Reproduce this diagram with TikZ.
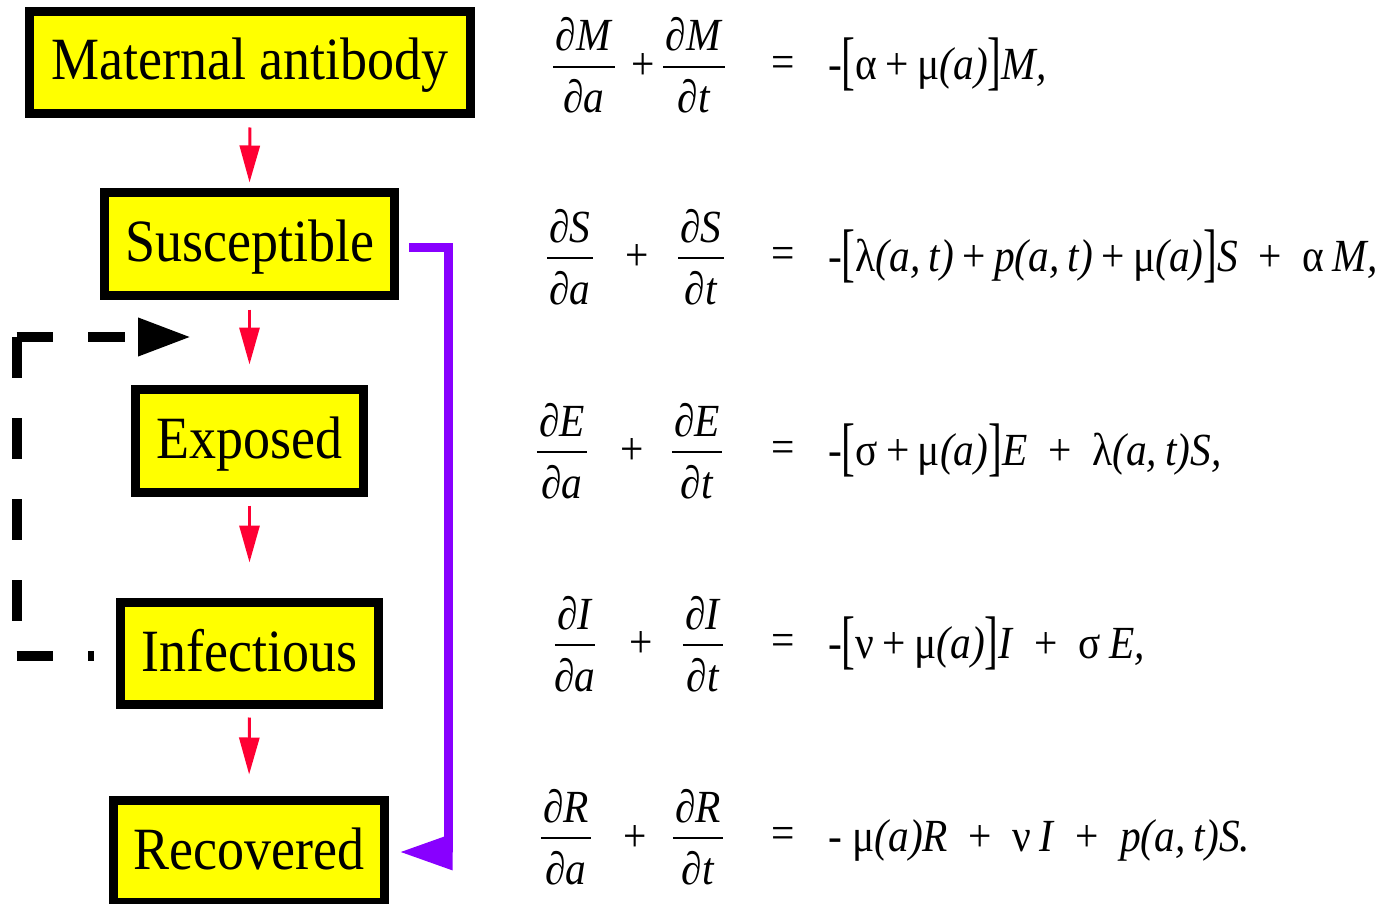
\documentclass[tikz,border=0pt]{standalone}
\usepackage{fontspec}
\setmainfont{Liberation Serif}
\usepackage{graphicx}
\usetikzlibrary{arrows.meta}
\definecolor{boxyellow}{RGB}{255,255,0}
\definecolor{arrred}{RGB}{255,0,51}
\definecolor{loopviolet}{RGB}{136,0,255}
\newcommand{\cx}[1]{\scalebox{0.9}[1]{#1}}
\newcommand{\iv}[1]{\textit{#1}}
\newcommand{\tsp}{\hspace{0.2em}}
\newcommand{\lb}{\raisebox{-3pt}{\scalebox{1}[1.4]{[}}}
\newcommand{\rb}{\raisebox{-3pt}{\scalebox{1}[1.4]{]}}}
\newcommand{\eqfont}{\fontsize{46}{52}\selectfont}
\newcommand{\efrac}[5]{%
  \coordinate (#1r) at (#2,#3);
  \node[eq, anchor=base] (#1n) at (#2,#3-16) {\cx{\iv{∂#4}}};
  \node[eq, anchor=base] (#1d) at (#2,#3+46) {\cx{\iv{∂#5}}};
  \draw[fracrule] ([xshift=-2pt]#1n.west |- #1r) -- ([xshift=2pt]#1n.east |- #1r);
}
\tikzset{
  comp/.style={draw=black, fill=boxyellow, line width=9pt, inner sep=0pt,
    font=\fontsize{60}{66}\selectfont, text height=46pt, text depth=11pt},
  flow/.style={draw=arrred, line width=3pt, -{Triangle[length=37pt,width=20pt]}},
  fbv/.style={draw=black, line width=10pt, dash pattern=on 40.5pt off 40.5pt},
  fbh/.style={draw=black, line width=10pt, dash pattern=on 36.5pt off 35pt},
  pv/.style={draw=loopviolet, line width=9pt},
  eq/.style={inner sep=0pt, font=\eqfont},
  fracrule/.style={draw=black, line width=2.5pt},
}
\begin{document}
\begin{tikzpicture}[x=1pt,y=-1pt]
\useasboundingbox (0,0) rectangle (1384,904);
% compartments
\node[comp, minimum width=441pt, minimum height=102pt] (mat) at (250,62.5) {\cx{Maternal antibody}};
\node[comp, minimum width=290pt, minimum height=103pt] (sus) at (249.5,244) {\cx{Susceptible}};
\node[comp, minimum width=228pt, minimum height=103pt] (exp) at (249.5,441) {\cx{Exposed}};
\node[comp, minimum width=258pt, minimum height=102pt] (inf) at (249.5,653.5) {\cx{Infectious}};
\node[comp, minimum width=271pt, minimum height=102pt] (rec) at (249,851.5) {\cx{Recovered}};
% red flows
\draw[flow, shorten <=9.5pt, shorten >=5.5pt] (mat.south) -- (sus.north);
\draw[flow, shorten <=9.5pt, shorten >=20.5pt] (sus.south) -- (exp.north);
\draw[flow, shorten <=8.5pt, shorten >=35.5pt] (exp.south) -- (inf.north);
\draw[flow, shorten <=8.5pt, shorten >=21.5pt] (inf.south) -- (rec.north);
% dashed feedback
\coordinate (dlt) at (16.5,337);
\coordinate (dlb) at (16.5,656);
\coordinate (dtip) at (191,337);
\draw[fbv] (dlt) -- (dlb);
\draw[fbh, shorten >=22.5pt] (dlb) -- (dlb -| inf.west);
\draw[fbh, -{Triangle[length=53pt,width=36pt]}] (dlt) -- (dtip);
% violet bypass
\coordinate (pc) at (448,852);
\draw[pv, shorten <=10pt, shorten >=10.5pt, -{Triangle[length=53pt,width=34pt]}]
  ([yshift=-3pt]sus.east) -| (pc) -- (pc -| rec.east);
% equations
\efrac{a1}{584}{67}{M}{a}
\efrac{b1}{694}{67}{M}{t}
\node[eq] (p1) at (643,67) {\cx{+}};
\node[eq] (e1) at (783,67) {\cx{=}};
\node[eq, anchor=base west] (r1) at (828,80) {\cx{-\lb α\tsp+\tsp μ\iv{(a)}\rb\iv{M,}}};

\efrac{a2}{570}{258}{S}{a}
\efrac{b2}{701}{258}{S}{t}
\node[eq] (p2) at (637,258) {\cx{+}};
\node[eq] (e2) at (783,258) {\cx{=}};
\node[eq, anchor=base west] (r2) at (828,271) {\cx{-\lb λ\iv{(a,\tsp t)}\tsp+\tsp\iv{p(a,\tsp t)}\tsp+\tsp μ\iv{(a)}\rb\iv{S}\ \ +\ \ α\tsp\iv{M,}}};

\efrac{a3}{562}{452}{E}{a}
\efrac{b3}{697}{452}{E}{t}
\node[eq] (p3) at (632,452) {\cx{+}};
\node[eq] (e3) at (783,452) {\cx{=}};
\node[eq, anchor=base west] (r3) at (828,465) {\cx{-\lb σ\tsp+\tsp μ\iv{(a)}\rb\iv{E}\ \ +\ \ λ\iv{(a,\tsp t)S,}}};

\efrac{a4}{575}{645}{I}{a}
\efrac{b4}{703}{645}{I}{t}
\node[eq] (p4) at (641,645) {\cx{+}};
\node[eq] (e4) at (783,645) {\cx{=}};
\node[eq, anchor=base west] (r4) at (828,658) {\cx{-\lb ν\tsp+\tsp μ\iv{(a)}\rb\iv{I}\ \ +\ \ σ\tsp\iv{E,}}};

\efrac{a5}{566}{838}{R}{a}
\efrac{b5}{698}{838}{R}{t}
\node[eq] (p5) at (635,838) {\cx{+}};
\node[eq] (e5) at (783,838) {\cx{=}};
\node[eq, anchor=base west] (r5) at (828,851) {\cx{-\ μ\iv{(a)R}\ \ +\ \ ν\tsp\iv{I}\ \ +\ \ \iv{p(a,\tsp t)S.}}};
\end{tikzpicture}
\end{document}
